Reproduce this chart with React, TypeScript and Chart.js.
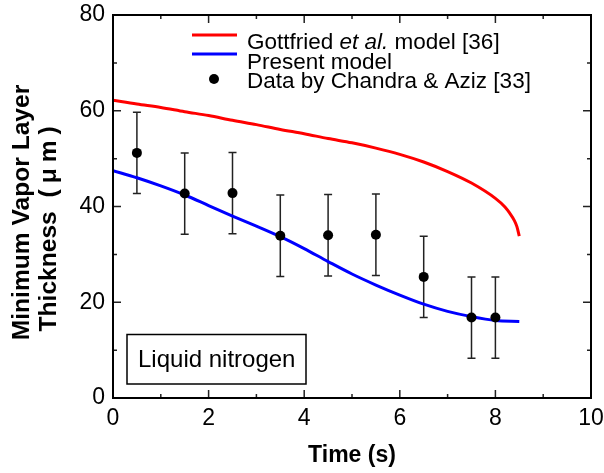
import React, { useEffect, useRef } from 'react';
import { Chart, registerables } from 'chart.js';

Chart.register(...registerables);

// ---- data ----
const gottfriedX = [0, 0.5, 1, 1.5, 2, 2.5, 3, 3.5, 4, 4.5, 5, 5.5, 6, 6.5, 7, 7.5, 8, 8.2, 8.3, 8.4, 8.45, 8.5];
const gottfriedY = [62.2, 61.4, 60.7, 59.8, 59.0, 58.0, 57.1, 56.1, 55.2, 54.2, 53.3, 52.2, 50.9, 49.3, 47.3, 44.9, 41.7, 39.9, 38.6, 37.0, 35.8, 33.8];

const presentX = [0, 0.5, 1, 1.5, 2, 2.5, 3, 3.5, 4, 4.5, 5, 5.5, 6, 6.5, 7, 7.5, 8, 8.5];
const presentY = [47.5, 46.0, 44.3, 42.4, 40.2, 38.0, 35.9, 33.7, 31.2, 28.5, 25.9, 23.6, 21.5, 19.6, 18.1, 17.0, 16.2, 16.0];

const dataX = [0.5, 1.5, 2.5, 3.5, 4.5, 5.5, 6.5, 7.5, 8.0];
const dataY = [51.2, 42.7, 42.8, 33.9, 34.0, 34.1, 25.3, 16.8, 16.8];
const dataErr = [8.5, 8.5, 8.5, 8.5, 8.5, 8.5, 8.5, 8.5, 8.5];

const xMinorTicks = [1, 3, 5, 7, 9];
const yMinorTicks = [10, 30, 50, 70];

const legendParts = ['Gottfried ', 'et al.', ' model [36]'];
const legendPresent = 'Present model';
const legendData = 'Data by Chandra & Aziz [33]';
const boxLabel = 'Liquid nitrogen';
const xTitle = 'Time (s)';
const yTitle1 = 'Minimum Vapor Layer';
const yTitle2a = 'Thickness';
const yTitle2b = '(\u03bcm)';

const FONT = '"Liberation Sans", Arial, Helvetica, sans-serif';

const decor = {
  id: 'decor',
  beforeDatasetsDraw(chart: any) {
    const { ctx, scales } = chart;
    const x = scales.x, y = scales.y;
    ctx.save();
    ctx.strokeStyle = '#222';
    ctx.lineWidth = 1.5;
    dataX.forEach((xv, i) => {
      const px = x.getPixelForValue(xv);
      const top = y.getPixelForValue(dataY[i] + dataErr[i]);
      const bot = y.getPixelForValue(dataY[i] - dataErr[i]);
      ctx.beginPath();
      ctx.moveTo(px, top); ctx.lineTo(px, bot);
      ctx.moveTo(px - 4, top); ctx.lineTo(px + 4, top);
      ctx.moveTo(px - 4, bot); ctx.lineTo(px + 4, bot);
      ctx.stroke();
    });
    ctx.restore();
  },
  afterDraw(chart: any) {
    const { ctx, chartArea, scales } = chart;
    const x = scales.x, y = scales.y;
    const { left, right, top, bottom } = chartArea;
    ctx.save();
    // ticks
    ctx.strokeStyle = '#222';
    ctx.lineWidth = 1.5;
    ctx.beginPath();
    const xMaj = x.ticks.map((t: any) => t.value);
    const yMaj = y.ticks.map((t: any) => t.value);
    const xt = (v: number, len: number) => {
      const p = x.getPixelForValue(v);
      ctx.moveTo(p, bottom); ctx.lineTo(p, bottom - len);
      ctx.moveTo(p, top); ctx.lineTo(p, top + len);
    };
    const yt = (v: number, len: number) => {
      const p = y.getPixelForValue(v);
      ctx.moveTo(left, p); ctx.lineTo(left + len, p);
      ctx.moveTo(right, p); ctx.lineTo(right - len, p);
    };
    xMaj.forEach((v: number) => xt(v, 8));
    xMinorTicks.forEach((v) => xt(v, 4));
    yMaj.forEach((v: number) => yt(v, 8));
    yMinorTicks.forEach((v) => yt(v, 4));
    ctx.stroke();
    // frame
    ctx.strokeStyle = '#000';
    ctx.lineWidth = 2;
    ctx.strokeRect(left, top, right - left, bottom - top);

    // legend
    ctx.lineWidth = 3;
    ctx.strokeStyle = '#ff0000';
    ctx.beginPath(); ctx.moveTo(192, 35); ctx.lineTo(237, 35); ctx.stroke();
    ctx.strokeStyle = '#0000ff';
    ctx.beginPath(); ctx.moveTo(192, 54); ctx.lineTo(237, 54); ctx.stroke();
    ctx.fillStyle = '#000';
    ctx.beginPath(); ctx.arc(214, 79, 5, 0, Math.PI * 2); ctx.fill();
    ctx.textBaseline = 'middle';
    ctx.textAlign = 'left';
    let tx = 247;
    legendParts.forEach((s, i) => {
      ctx.font = (i === 1 ? 'italic ' : '') + '22.5px ' + FONT;
      ctx.fillText(s, tx, 43);
      tx += ctx.measureText(s).width;
    });
    ctx.font = '22.5px ' + FONT;
    ctx.fillText(legendPresent, 247, 62.5);
    ctx.fillText(legendData, 247, 82);

    // label box
    ctx.lineWidth = 1.5;
    ctx.strokeStyle = '#000';
    ctx.strokeRect(127, 334.5, 179, 49.5);
    ctx.font = '24px ' + FONT;
    ctx.textBaseline = 'alphabetic';
    ctx.fillText(boxLabel, 138, 366.5);

    // axis titles
    ctx.font = 'bold 23px ' + FONT;
    ctx.textAlign = 'center';
    ctx.fillText(xTitle, (left + right) / 2, 461.5);

    ctx.font = 'bold 24.6px ' + FONT;
    ctx.save();
    ctx.translate(28.5, 212.5);
    ctx.rotate(-Math.PI / 2);
    ctx.fillText(yTitle1, 0, 0);
    ctx.restore();

    ctx.save();
    ctx.translate(55.5, 331.5);
    ctx.rotate(-Math.PI / 2);
    ctx.textAlign = 'left';
    ctx.fillText(yTitle2a, 0, 0);
    (ctx as any).letterSpacing = '6px';
    ctx.fillText(yTitle2b, 134, 0);
    (ctx as any).letterSpacing = '0px';
    ctx.restore();

    ctx.restore();
  },
};

export default function App() {
  const ref = useRef<HTMLCanvasElement | null>(null);
  useEffect(() => {
    if (!ref.current) return;
    const chart = new Chart(ref.current, {
      type: 'scatter',
      data: {
        datasets: [
          {
            label: 'Data by Chandra & Aziz [33]',
            data: dataX.map((v, i) => ({ x: v, y: dataY[i] })),
            showLine: false,
            pointRadius: 5,
            pointBackgroundColor: '#000',
            pointBorderColor: '#000',
            pointBorderWidth: 0,
          },
          {
            label: 'Present model',
            data: presentX.map((v, i) => ({ x: v, y: presentY[i] })),
            showLine: true,
            pointRadius: 0,
            borderColor: '#0000ff',
            borderWidth: 3,
            cubicInterpolationMode: 'monotone',
          },
          {
            label: 'Gottfried et al. model [36]',
            data: gottfriedX.map((v, i) => ({ x: v, y: gottfriedY[i] })),
            showLine: true,
            pointRadius: 0,
            borderColor: '#ff0000',
            borderWidth: 3,
            cubicInterpolationMode: 'monotone',
          },
        ],
      },
      options: {
        animation: false,
        responsive: false,
        layout: { padding: { top: 15, right: 13, left: 0, bottom: 0 } },
        plugins: { legend: { display: false }, tooltip: { enabled: false } },
        scales: {
          x: {
            type: 'linear',
            min: 0,
            max: 10,
            grid: { display: false, drawTicks: false },
            border: { display: false },
            ticks: { stepSize: 2, padding: 7, color: '#000', font: { family: FONT, size: 23 } },
            afterFit: (s: any) => { s.height = 75; s.paddingLeft = 0; s.paddingRight = 0; },
          },
          y: {
            type: 'linear',
            min: 0,
            max: 80,
            grid: { display: false, drawTicks: false },
            border: { display: false },
            ticks: { stepSize: 20, padding: 8, color: '#000', font: { family: FONT, size: 23 } },
            afterFit: (s: any) => { s.width = 113; s.paddingTop = 0; s.paddingBottom = 0; },
          },
        },
      } as any,
      plugins: [decor],
    });
    return () => chart.destroy();
  }, []);
  return (
    <div style={{ position: 'absolute', left: 0, top: 0, width: 604, height: 473, background: '#fff' }}>
      <canvas ref={ref} width={604} height={473} />
    </div>
  );
}
